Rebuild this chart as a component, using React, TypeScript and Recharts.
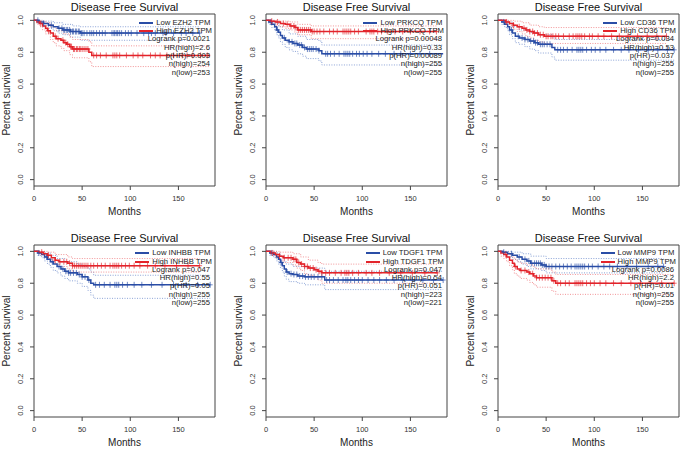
import React from "react";
import { ComposedChart, Line, Scatter, XAxis, YAxis, ReferenceArea } from "recharts";

type Pt = [number, number];

const monthTicks = [0, 50, 100, 150];
const survTicks = [0, 0.2, 0.4, 0.6, 0.8, 1.0];

// EZH2
const ezh2Low: Pt[] = [[0, 1], [5, 0.99], [10, 0.98], [15, 0.97], [20, 0.96], [25, 0.95], [30, 0.94], [38, 0.93], [48, 0.92], [172, 0.92]];
const ezh2High: Pt[] = [[0, 1], [3, 0.99], [6, 0.98], [9, 0.965], [12, 0.95], [14, 0.935], [17, 0.92], [20, 0.9], [23, 0.885], [28, 0.875], [31, 0.86], [34, 0.85], [37, 0.835], [40, 0.82], [57, 0.8], [60, 0.78], [183, 0.78]];
const ezh2LowUp: Pt[] = [[0, 1], [10, 0.995], [20, 0.985], [30, 0.975], [40, 0.965], [48, 0.96], [172, 0.96]];
const ezh2LowLo: Pt[] = [[0, 1], [5, 0.98], [10, 0.965], [15, 0.95], [20, 0.935], [25, 0.92], [30, 0.91], [38, 0.895], [48, 0.875], [172, 0.875]];
const ezh2HighUp: Pt[] = [[0, 1], [6, 0.995], [12, 0.985], [17, 0.96], [23, 0.935], [31, 0.915], [37, 0.895], [40, 0.88], [57, 0.865], [60, 0.84], [183, 0.84]];
const ezh2HighLo: Pt[] = [[0, 1], [3, 0.975], [6, 0.96], [9, 0.94], [12, 0.915], [17, 0.88], [20, 0.86], [23, 0.84], [28, 0.825], [31, 0.81], [37, 0.785], [40, 0.765], [57, 0.74], [60, 0.71], [183, 0.71]];
const ezh2LowCens = [4, 10, 18, 26, 29, 31, 32, 34, 35, 37, 38, 40, 41, 43, 44, 46, 47, 49, 50, 52, 55, 58, 60, 62, 65, 68, 71, 74, 81, 83, 84, 86, 87, 89, 91, 95, 98, 101, 107, 114, 119, 122, 126, 134, 137, 145, 153, 158, 165, 172];
const ezh2HighCens = [7, 15, 22, 25, 30, 33, 35, 38, 39, 41, 42, 44, 45, 47, 48, 50, 52, 54, 56, 62, 65, 69, 75, 82, 84, 86, 89, 96, 103, 108, 113, 121, 126, 131, 138, 145, 154, 159, 165, 173, 180];

// PRKCQ
const prkcqLow: Pt[] = [[0, 1], [3, 0.99], [6, 0.975], [9, 0.96], [11, 0.94], [13, 0.925], [15, 0.905], [17, 0.89], [20, 0.875], [24, 0.865], [28, 0.855], [33, 0.845], [38, 0.83], [42, 0.82], [55, 0.81], [58, 0.79], [184, 0.79]];
const prkcqHigh: Pt[] = [[0, 1], [5, 0.995], [10, 0.99], [15, 0.98], [20, 0.975], [25, 0.965], [30, 0.955], [33, 0.94], [47, 0.93], [177, 0.93]];
const prkcqLowUp: Pt[] = [[0, 1], [9, 0.985], [13, 0.96], [17, 0.94], [24, 0.915], [33, 0.9], [42, 0.88], [55, 0.87], [58, 0.845], [184, 0.845]];
const prkcqLowLo: Pt[] = [[0, 1], [3, 0.975], [6, 0.955], [9, 0.935], [11, 0.91], [13, 0.89], [15, 0.865], [17, 0.85], [20, 0.83], [24, 0.815], [28, 0.805], [33, 0.79], [38, 0.775], [42, 0.76], [55, 0.745], [58, 0.72], [184, 0.72]];
const prkcqHighUp: Pt[] = [[0, 1], [15, 0.995], [25, 0.99], [33, 0.975], [47, 0.965], [177, 0.965]];
const prkcqHighLo: Pt[] = [[0, 1], [5, 0.985], [10, 0.97], [15, 0.96], [20, 0.95], [25, 0.94], [30, 0.925], [33, 0.91], [47, 0.885], [177, 0.885]];
const prkcqLowCens = [5, 12, 19, 24, 27, 30, 32, 35, 37, 40, 43, 45, 47, 49, 52, 55, 62, 64, 67, 71, 76, 81, 83, 85, 87, 90, 94, 97, 101, 105, 110, 117, 124, 133, 140, 150, 160, 170];
const prkcqHighCens = [6, 12, 18, 22, 26, 29, 31, 34, 36, 38, 40, 42, 44, 46, 48, 50, 53, 56, 60, 66, 70, 74, 80, 82, 84, 86, 88, 92, 96, 104, 108, 110, 112, 116, 120, 126, 134, 142, 150, 160, 170, 177];

// CD36
const cd36Low: Pt[] = [[0, 1], [4, 0.99], [7, 0.975], [10, 0.96], [12, 0.94], [15, 0.92], [18, 0.9], [22, 0.89], [28, 0.88], [33, 0.87], [38, 0.86], [42, 0.85], [56, 0.83], [59, 0.815], [183, 0.815]];
const cd36High: Pt[] = [[0, 1], [8, 0.99], [12, 0.98], [16, 0.97], [20, 0.96], [25, 0.95], [29, 0.94], [33, 0.93], [37, 0.92], [42, 0.91], [48, 0.9], [175, 0.9]];
const cd36LowUp: Pt[] = [[0, 1], [10, 0.99], [15, 0.96], [22, 0.94], [33, 0.925], [42, 0.91], [56, 0.895], [59, 0.88], [183, 0.88]];
const cd36LowLo: Pt[] = [[0, 1], [4, 0.975], [7, 0.955], [10, 0.935], [12, 0.91], [15, 0.885], [18, 0.86], [22, 0.85], [28, 0.835], [33, 0.82], [38, 0.81], [42, 0.795], [56, 0.77], [59, 0.75], [183, 0.75]];
const cd36HighUp: Pt[] = [[0, 1], [16, 0.995], [25, 0.985], [33, 0.97], [42, 0.96], [48, 0.955], [175, 0.955]];
const cd36HighLo: Pt[] = [[0, 1], [8, 0.975], [12, 0.96], [16, 0.945], [20, 0.93], [25, 0.915], [29, 0.9], [33, 0.89], [37, 0.875], [42, 0.865], [48, 0.855], [175, 0.855]];
const cd36LowCens = [6, 14, 21, 25, 28, 31, 34, 37, 39, 41, 44, 46, 48, 51, 54, 62, 65, 68, 72, 77, 82, 84, 86, 88, 92, 97, 101, 106, 112, 120, 128, 136, 146, 156, 166, 176, 183];
const cd36HighCens = [9, 16, 22, 27, 30, 33, 36, 38, 41, 44, 47, 50, 52, 55, 57, 60, 63, 68, 74, 78, 81, 83, 85, 87, 90, 95, 98, 104, 110, 118, 126, 135, 145, 155, 165, 175];

// INHBB
const inhbbLow: Pt[] = [[0, 1], [4, 0.99], [8, 0.98], [11, 0.965], [14, 0.95], [17, 0.935], [20, 0.92], [24, 0.905], [28, 0.89], [32, 0.875], [36, 0.865], [45, 0.855], [50, 0.84], [56, 0.82], [59, 0.8], [62, 0.79], [183, 0.79]];
const inhbbHigh: Pt[] = [[0, 1], [5, 0.995], [10, 0.985], [14, 0.975], [18, 0.96], [22, 0.945], [26, 0.935], [35, 0.925], [40, 0.91], [172, 0.91]];
const inhbbLowUp: Pt[] = [[0, 1], [11, 0.99], [17, 0.975], [24, 0.955], [32, 0.935], [45, 0.92], [50, 0.905], [56, 0.89], [59, 0.87], [62, 0.85], [183, 0.85]];
const inhbbLowLo: Pt[] = [[0, 1], [4, 0.975], [8, 0.96], [11, 0.94], [14, 0.92], [17, 0.9], [20, 0.88], [24, 0.865], [28, 0.845], [32, 0.83], [36, 0.815], [45, 0.8], [50, 0.78], [56, 0.755], [59, 0.725], [62, 0.705], [183, 0.705]];
const inhbbHighUp: Pt[] = [[0, 1], [14, 0.995], [22, 0.98], [35, 0.965], [40, 0.955], [172, 0.955]];
const inhbbHighLo: Pt[] = [[0, 1], [5, 0.985], [10, 0.97], [14, 0.955], [18, 0.935], [22, 0.92], [26, 0.905], [35, 0.89], [40, 0.87], [172, 0.87]];
const inhbbLowCens = [5, 13, 19, 26, 30, 33, 36, 38, 41, 44, 47, 50, 53, 57, 64, 68, 73, 79, 84, 86, 88, 92, 97, 104, 112, 122, 133, 145, 158, 170, 183];
const inhbbHighCens = [8, 15, 22, 27, 31, 34, 37, 40, 42, 44, 46, 48, 50, 52, 54, 56, 59, 62, 66, 70, 74, 79, 82, 84, 86, 88, 91, 95, 99, 104, 110, 118, 126, 136, 148, 160, 172];

// TDGF1
const tdgf1Low: Pt[] = [[0, 1], [4, 0.99], [8, 0.98], [11, 0.965], [13, 0.95], [15, 0.93], [17, 0.91], [19, 0.89], [21, 0.87], [24, 0.86], [28, 0.855], [33, 0.845], [40, 0.84], [61, 0.82], [184, 0.82]];
const tdgf1High: Pt[] = [[0, 1], [5, 0.99], [10, 0.98], [14, 0.97], [18, 0.96], [28, 0.95], [32, 0.93], [36, 0.92], [40, 0.905], [44, 0.895], [50, 0.885], [54, 0.875], [58, 0.865], [178, 0.865]];
const tdgf1LowUp: Pt[] = [[0, 1], [11, 0.99], [15, 0.97], [19, 0.935], [21, 0.92], [28, 0.905], [40, 0.895], [61, 0.875], [184, 0.875]];
const tdgf1LowLo: Pt[] = [[0, 1], [4, 0.975], [8, 0.96], [11, 0.94], [13, 0.92], [15, 0.895], [17, 0.87], [19, 0.845], [21, 0.825], [24, 0.81], [33, 0.8], [40, 0.79], [61, 0.76], [184, 0.76]];
const tdgf1HighUp: Pt[] = [[0, 1], [14, 0.995], [28, 0.985], [36, 0.965], [44, 0.945], [54, 0.93], [58, 0.92], [178, 0.92]];
const tdgf1HighLo: Pt[] = [[0, 1], [5, 0.975], [10, 0.96], [14, 0.945], [18, 0.93], [28, 0.915], [32, 0.895], [36, 0.88], [40, 0.86], [44, 0.85], [50, 0.835], [54, 0.82], [58, 0.8], [178, 0.8]];
const tdgf1LowCens = [6, 16, 22, 26, 29, 32, 35, 38, 41, 44, 47, 50, 54, 58, 63, 66, 70, 75, 80, 83, 85, 88, 92, 96, 100, 106, 112, 118, 125, 133, 142, 152, 163, 174, 184];
const tdgf1HighCens = [7, 14, 19, 23, 26, 29, 31, 34, 37, 40, 43, 46, 49, 52, 55, 58, 62, 66, 72, 78, 82, 84, 86, 90, 96, 104, 110, 118, 128, 140, 152, 165, 178];

// MMP9
const mmp9Low: Pt[] = [[0, 1], [5, 0.995], [10, 0.985], [15, 0.975], [20, 0.965], [25, 0.95], [30, 0.94], [34, 0.925], [45, 0.915], [50, 0.905], [172, 0.905]];
const mmp9High: Pt[] = [[0, 1], [3, 0.99], [6, 0.98], [9, 0.965], [12, 0.945], [15, 0.925], [17, 0.905], [20, 0.89], [23, 0.88], [30, 0.87], [33, 0.86], [37, 0.845], [40, 0.835], [56, 0.815], [60, 0.8], [183, 0.8]];
const mmp9LowUp: Pt[] = [[0, 1], [15, 0.995], [25, 0.985], [34, 0.97], [50, 0.955], [172, 0.955]];
const mmp9LowLo: Pt[] = [[0, 1], [5, 0.985], [10, 0.965], [15, 0.95], [20, 0.935], [25, 0.92], [30, 0.905], [34, 0.89], [45, 0.88], [50, 0.865], [172, 0.865]];
const mmp9HighUp: Pt[] = [[0, 1], [9, 0.99], [12, 0.98], [15, 0.965], [17, 0.95], [20, 0.935], [23, 0.925], [30, 0.915], [37, 0.9], [40, 0.89], [56, 0.87], [60, 0.855], [183, 0.855]];
const mmp9HighLo: Pt[] = [[0, 1], [3, 0.97], [6, 0.955], [9, 0.935], [12, 0.91], [15, 0.885], [17, 0.86], [20, 0.845], [23, 0.83], [30, 0.82], [33, 0.805], [37, 0.79], [40, 0.775], [56, 0.75], [60, 0.73], [183, 0.73]];
const mmp9LowCens = [6, 14, 22, 28, 32, 35, 38, 40, 42, 44, 46, 48, 50, 53, 56, 60, 64, 68, 72, 76, 80, 82, 84, 86, 88, 90, 94, 98, 104, 110, 116, 124, 134, 144, 156, 166, 172];
const mmp9HighCens = [8, 18, 24, 28, 32, 36, 40, 43, 46, 49, 52, 55, 58, 62, 65, 70, 74, 80, 82, 84, 86, 88, 92, 96, 100, 106, 112, 120, 128, 138, 148, 158, 170, 183];

const ezh2Stats = ["Logrank p=0.0021", "HR(high)=2.6", "p(HR)=0.003", "n(high)=254", "n(low)=253"];
const prkcqStats = ["Logrank p=0.00048", "HR(high)=0.33", "p(HR)=0.00089", "n(high)=255", "n(low)=255"];
const cd36Stats = ["Logrank p=0.034", "HR(high)=0.53", "p(HR)=0.037", "n(high)=255", "n(low)=255"];
const inhbbStats = ["Logrank p=0.047", "HR(high)=0.55", "p(HR)=0.05", "n(high)=255", "n(low)=255"];
const tdgf1Stats = ["Logrank p=0.047", "HR(high)=0.54", "p(HR)=0.051", "n(high)=223", "n(low)=221"];
const mmp9Stats = ["Logrank p=0.0086", "HR(high)=2.2", "p(HR)=0.01", "n(high)=255", "n(low)=255"];

const BLUE = "#2a4da6";
const RED = "#e3242b";
const BLUE_CI = "#6d8ccc";
const RED_CI = "#ef7a7e";
const FONT = "'Liberation Sans', Arial, sans-serif";

const BOX_W = 181;
const BOX_H = 172;
const X_MAX = 188;

const toXY = (c: Pt[]) => c.map(([x, y]) => ({ x, y }));
const survAt = (c: Pt[], t: number) => {
  let s = c[0][1];
  for (const [m, v] of c) if (m <= t) s = v;
  return s;
};

const Plus = (color: string) => (props: any) => {
  const { cx, cy } = props;
  return <path d={`M${cx - 2.5},${cy}h5M${cx},${cy - 3}v6`} stroke={color} strokeWidth={0.9} strokeOpacity={0.75} />;
};

const YTick = (props: any) => {
  const { x, y, payload } = props;
  return (
    <text x={x} y={y} transform={`rotate(-90 ${x} ${y})`} textAnchor="middle" fontSize={7.5} fill="#333" fontFamily={FONT}>
      {Number(payload.value).toFixed(1)}
    </text>
  );
};

interface PanelProps {
  left: number;
  top: number;
  gene: string;
  low: Pt[];
  high: Pt[];
  lowUp: Pt[];
  lowLo: Pt[];
  highUp: Pt[];
  highLo: Pt[];
  lowCens: number[];
  highCens: number[];
  stats: string[];
}

const abs = (x: number, y: number, extra: React.CSSProperties = {}): React.CSSProperties => ({
  position: "absolute",
  left: x,
  top: y,
  whiteSpace: "nowrap",
  lineHeight: 1,
  fontFamily: FONT,
  ...extra,
});

const Panel = ({ left, top, gene, low, high, lowUp, lowLo, highUp, highLo, lowCens, highCens, stats }: PanelProps) => {
  const right = left + BOX_W;
  const ciLine = (d: Pt[], color: string, k: string) => (
    <Line key={k} data={toXY(d)} dataKey="y" type="stepAfter" dot={false} stroke={color} strokeWidth={0.8} strokeDasharray="1 1.5" isAnimationActive={false} />
  );
  return (
    <>
      <div style={{ position: "absolute", left: left - 34, top: top - 14 }}>
        <ComposedChart width={34 + BOX_W + 4} height={14 + BOX_H + 40} margin={{ top: 14, right: 4, bottom: 0, left: 0 }}>
          <XAxis
            dataKey="x"
            type="number"
            domain={[0, X_MAX]}
            ticks={monthTicks}
            allowDataOverflow
            axisLine={false}
            tickSize={4}
            tickMargin={6}
            height={40}
            tick={{ fontSize: 7.5, fill: "#333", fontFamily: FONT }}
            tickLine={{ stroke: "#444" }}
          />
          <YAxis
            dataKey="y"
            type="number"
            domain={[-0.04, 1.04]}
            ticks={survTicks}
            allowDataOverflow
            axisLine={false}
            tickSize={4}
            tickMargin={7}
            width={34}
            tick={<YTick />}
            tickLine={{ stroke: "#444" }}
          />
          <ReferenceArea x1={0} x2={X_MAX} y1={-0.04} y2={1.04} fill="none" fillOpacity={0} stroke="#444" strokeWidth={1} />
          {ciLine(lowUp, BLUE_CI, "lu")}
          {ciLine(lowLo, BLUE_CI, "ll")}
          {ciLine(highUp, RED_CI, "hu")}
          {ciLine(highLo, RED_CI, "hl")}
          <Line data={toXY(low)} dataKey="y" type="stepAfter" dot={false} stroke={BLUE} strokeWidth={1.5} isAnimationActive={false} />
          <Line data={toXY(high)} dataKey="y" type="stepAfter" dot={false} stroke={RED} strokeWidth={1.5} isAnimationActive={false} />
          <Scatter data={lowCens.map((t) => ({ x: t, y: survAt(low, t) }))} dataKey="y" shape={Plus(BLUE)} isAnimationActive={false} />
          <Scatter data={highCens.map((t) => ({ x: t, y: survAt(high, t) }))} dataKey="y" shape={Plus(RED)} isAnimationActive={false} />
        </ComposedChart>
      </div>
      <div style={abs(left + BOX_W / 2, top - 7, { fontSize: 11, transform: "translate(-50%,-50%)", color: "#111" })}>Disease Free Survival</div>
      <div style={abs(left + BOX_W / 2, top + BOX_H + 26, { fontSize: 10, transform: "translate(-50%,-50%)", color: "#222" })}>Months</div>
      <div style={abs(left - 27, top + BOX_H / 2, { fontSize: 10, transform: "translate(-50%,-50%) rotate(-90deg)", color: "#222" })}>Percent survival</div>
      <div style={abs(0, top + 4.5, { left: "auto", right: 683 - (right - 3), fontSize: 7.7, color: "#222" })}>
        {[
          { c: BLUE, t: `Low ${gene} TPM` },
          { c: RED, t: `High ${gene} TPM` },
        ].map((r) => (
          <div key={r.t} style={{ display: "flex", alignItems: "center", height: 8.35 }}>
            <span style={{ display: "inline-block", width: 14, height: 2, background: r.c, marginRight: 3, flexShrink: 0 }} />
            <span>{r.t}</span>
          </div>
        ))}
      </div>
      <div style={abs(0, top + 4.5 + 2 * 8.35, { left: "auto", right: 683 - (right - 5), fontSize: 7.7, color: "#222", textAlign: "right" })}>
        {stats.map((s) => (
          <div key={s} style={{ height: 8.35, lineHeight: "8.35px" }}>{s}</div>
        ))}
      </div>
    </>
  );
};

export default function App() {
  return (
    <div style={{ position: "absolute", left: 0, top: 0, width: 683, height: 450, background: "#fff", overflow: "hidden" }}>
      <Panel left={34} top={14} gene="EZH2" low={ezh2Low} high={ezh2High} lowUp={ezh2LowUp} lowLo={ezh2LowLo} highUp={ezh2HighUp} highLo={ezh2HighLo} lowCens={ezh2LowCens} highCens={ezh2HighCens} stats={ezh2Stats} />
      <Panel left={266} top={14} gene="PRKCQ" low={prkcqLow} high={prkcqHigh} lowUp={prkcqLowUp} lowLo={prkcqLowLo} highUp={prkcqHighUp} highLo={prkcqHighLo} lowCens={prkcqLowCens} highCens={prkcqHighCens} stats={prkcqStats} />
      <Panel left={498} top={14} gene="CD36" low={cd36Low} high={cd36High} lowUp={cd36LowUp} lowLo={cd36LowLo} highUp={cd36HighUp} highLo={cd36HighLo} lowCens={cd36LowCens} highCens={cd36HighCens} stats={cd36Stats} />
      <Panel left={34} top={244.5} gene="INHBB" low={inhbbLow} high={inhbbHigh} lowUp={inhbbLowUp} lowLo={inhbbLowLo} highUp={inhbbHighUp} highLo={inhbbHighLo} lowCens={inhbbLowCens} highCens={inhbbHighCens} stats={inhbbStats} />
      <Panel left={266} top={244.5} gene="TDGF1" low={tdgf1Low} high={tdgf1High} lowUp={tdgf1LowUp} lowLo={tdgf1LowLo} highUp={tdgf1HighUp} highLo={tdgf1HighLo} lowCens={tdgf1LowCens} highCens={tdgf1HighCens} stats={tdgf1Stats} />
      <Panel left={498} top={244.5} gene="MMP9" low={mmp9Low} high={mmp9High} lowUp={mmp9LowUp} lowLo={mmp9LowLo} highUp={mmp9HighUp} highLo={mmp9HighLo} lowCens={mmp9LowCens} highCens={mmp9HighCens} stats={mmp9Stats} />
    </div>
  );
}
